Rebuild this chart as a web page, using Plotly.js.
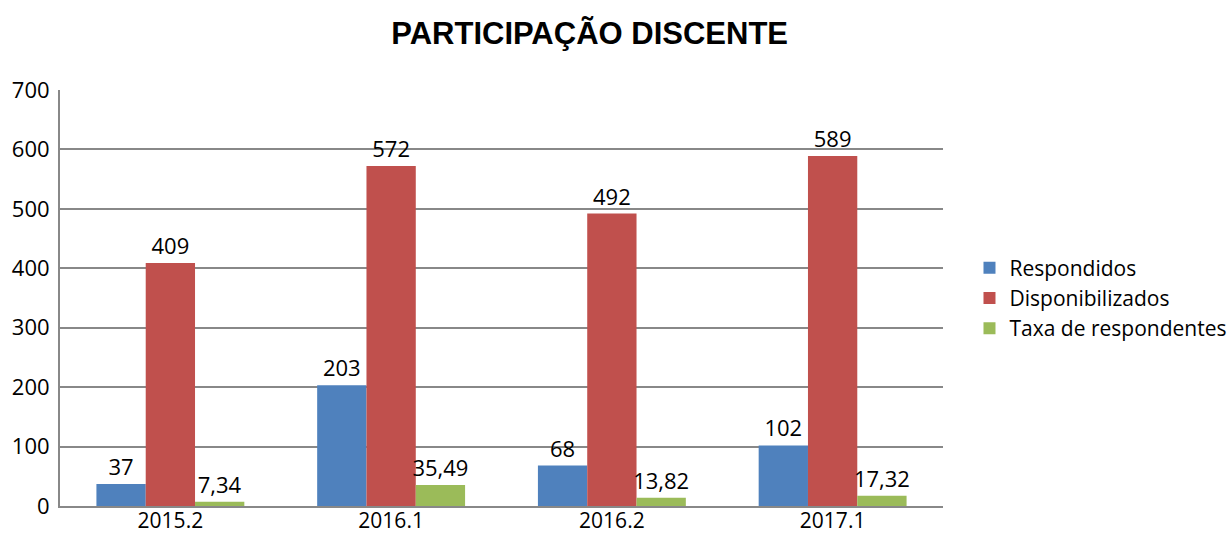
<!DOCTYPE html>
<html><head><meta charset="utf-8">
<script src="https://cdn.plot.ly/plotly-3.0.1.min.js"></script>
<style>body{margin:0;background:#fff}#c{width:1231px;height:533px}</style>
</head><body><div id="c"></div>
<script>
const categories = ["2015.2", "2016.1", "2016.2", "2017.1"];
const respondidos = [37, 203, 68, 102];
const disponibilizados = [409, 572, 492, 589];
const taxa = [7.34, 35.49, 13.82, 17.32];
const seriesNames = ["Respondidos", "Disponibilizados", "Taxa de respondentes"];
const colors = ["#4F81BD", "#C0504D", "#9BBB59"];
const yTicks = [0, 100, 200, 300, 400, 500, 600, 700];

const fmt = v => String(v).replace('.', ',');
const FONT = "Open Sans, Noto Sans, sans-serif";
const mk = (vals, i) => ({
  type: 'bar', x: categories, y: vals, name: seriesNames[i],
  marker: {color: colors[i]},
  text: vals.map(fmt), textposition: 'outside', cliponaxis: false,
  textfont: {family: FONT, size: 22, color: '#000'}, constraintext: 'none'
});
const data = [mk(respondidos,0), mk(disponibilizados,1), mk(taxa,2)];
const layout = {
  width: 1231, height: 533,
  margin: {l: 60, r: 288, t: 90, b: 27, autoexpand: false},
  paper_bgcolor: '#fff', plot_bgcolor: '#fff',
  uniformtext: {mode: false},
  title: {text: '<b>PARTICIPAÇÃO DISCENTE</b>', x: 0.479, xanchor: 'center', xref: 'container',
          y: 0.938, yanchor: 'middle', yref: 'container',
          font: {family: 'Liberation Sans, Arial, sans-serif', size: 31, color: '#000'}},
  barmode: 'group', bargap: 0.33, bargroupgap: 0,
  xaxis: {type: 'category', showline: true, linecolor: '#888', linewidth: 2,
          tickfont: {family: FONT, size: 21, color: '#000'}, ticks: '', showgrid: false,
          ticklabelstandoff: -5},
  yaxis: {range: [0, 700], tickvals: yTicks, showline: true, linecolor: '#888', linewidth: 2,
          gridcolor: '#888', gridwidth: 2, zeroline: false,
          tickfont: {family: FONT, size: 22, color: '#000'}, ticks: '', ticklabelstandoff: 4},
  legend: {x: 1.03, xanchor: 'left', y: 0.5, yanchor: 'middle',
           font: {family: FONT, size: 21, color: '#000'}, tracegroupgap: 0},
  showlegend: true
};
Plotly.newPlot('c', data, layout, {displayModeBar: false, staticPlot: true});
</script></body></html>
